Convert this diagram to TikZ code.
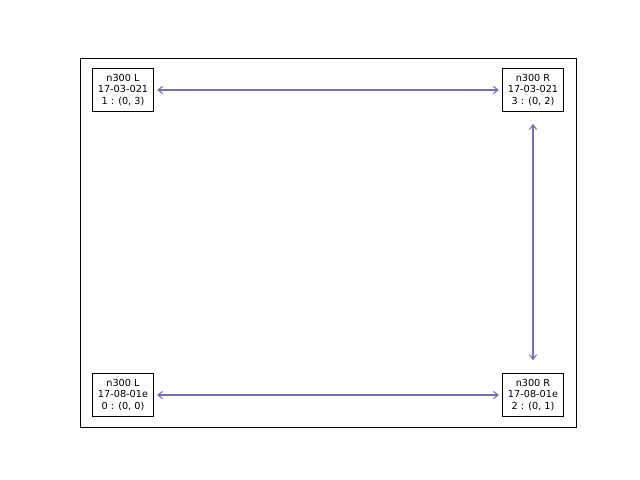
\documentclass[tikz,border=0pt]{standalone}
\usepackage{fontspec}
\setmainfont{DejaVu Sans}
\usepackage{xcolor}
\usetikzlibrary{arrows.meta,positioning}
\definecolor{LinkPurple}{HTML}{7570B3}
\tikzset{
  cellbox/.style={draw=black,line width=0.7pt,align=center,inner xsep=4pt,inner ysep=4pt,fill=white,font=\fontsize{6.9}{8.2}\selectfont},
  linkarrow/.style={{Straight Barb[length=1.2mm,width=1.8mm]}-{Straight Barb[length=1.2mm,width=1.8mm]},line width=0.75pt,draw=LinkPurple},
  hshort/.style={shorten <=0.07cm,shorten >=0.07cm},
  vshort/.style={shorten <=0.3cm,shorten >=0.32cm}
}
\begin{document}
\begin{tikzpicture}[x=0.025cm,y=-0.025cm]
\useasboundingbox (0,0) rectangle (640,480);
\draw[line width=0.7pt] (80,58) rectangle (576,427);
\node[cellbox] (lt) at (123,90) {n300 L\\17-03-021\\1 : (0, 3)};
\node[cellbox] (rt) at (533,90) {n300 R\\17-03-021\\3 : (0, 2)};
\node[cellbox] (lb) at (123,395) {n300 L\\17-08-01e\\0 : (0, 0)};
\node[cellbox] (rb) at (533,395) {n300 R\\17-08-01e\\2 : (0, 1)};
\draw[linkarrow,hshort] (lt.east)--(rt.west);
\draw[linkarrow,hshort] (lb.east)--(rb.west);
\draw[linkarrow,vshort] (rt.south)--(rb.north);
\end{tikzpicture}
\end{document}
